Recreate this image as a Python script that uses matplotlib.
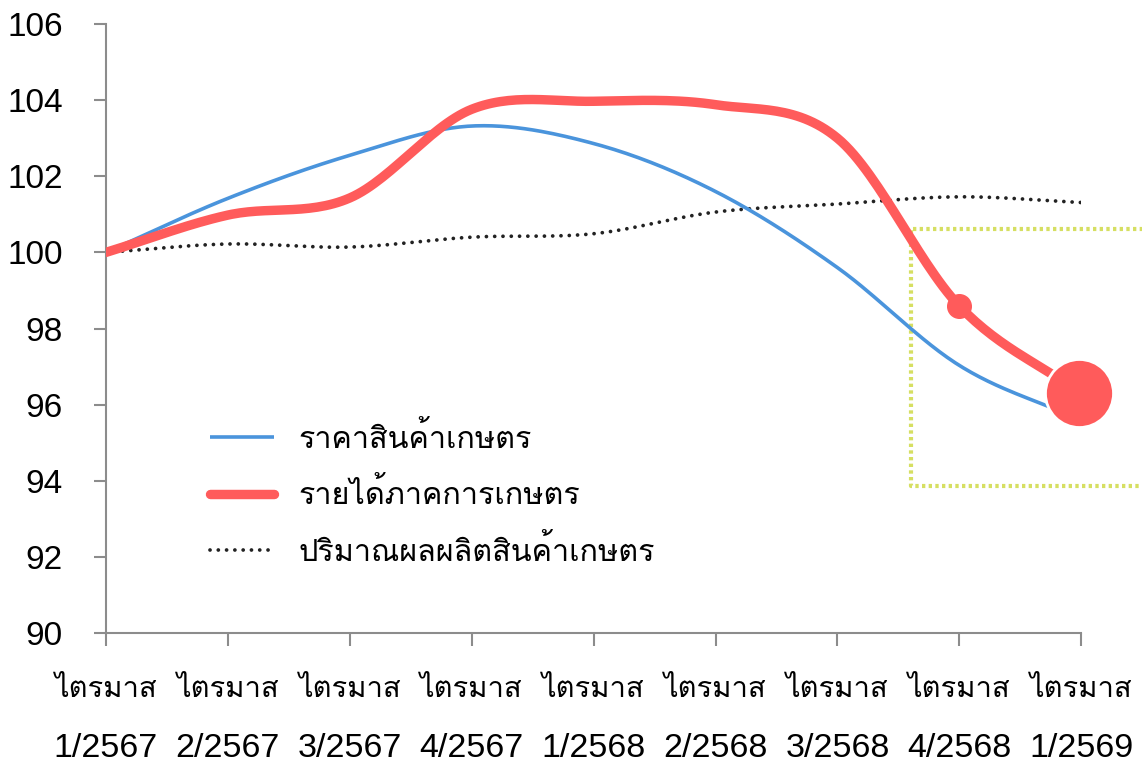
import numpy as np
import matplotlib
matplotlib.use('Agg')
import matplotlib.pyplot as plt
from matplotlib import font_manager
from matplotlib.ft2font import FT2Font

# data (index, base = 100)
quarter_word = 'ไตรมาส'
periods = ['1/2567', '2/2567', '3/2567', '4/2567', '1/2568', '2/2568', '3/2568', '4/2568', '1/2569']
price = [100.0, 101.42, 102.55, 103.32, 102.86, 101.6, 99.6, 97.03, 95.6]
income = [100.0, 100.98, 101.43, 103.76, 103.97, 103.88, 103.0, 98.59, 96.3]
production = [100.0, 100.22, 100.14, 100.40, 100.49, 101.06, 101.27, 101.46, 101.31]
labels = ['ราคาสินค้าเกษตร', 'รายได้ภาคการเกษตร', 'ปริมาณผลผลิตสินค้าเกษตร']
yticks = [90, 92, 94, 96, 98, 100, 102, 104, 106]

# highlight box around the last two quarters
box_x = (6.6, 8.7)
box_y = (93.86, 100.61)


def find_thai_font():
    for f in font_manager.fontManager.ttflist:
        try:
            if 0x0E01 in FT2Font(f.fname).get_charmap():
                return f.name
        except Exception:
            pass
    return 'DejaVu Sans'


def smooth(y, n=30):
    # catmull-rom curve through the points, like excel's smoothed line
    y = np.asarray(y, dtype=float)
    p = np.concatenate([[2 * y[0] - y[1]], y, [2 * y[-1] - y[-2]]])
    xs, ys = [], []
    t = np.linspace(0, 1, n, endpoint=False)
    for i in range(len(y) - 1):
        p0, p1, p2, p3 = p[i], p[i + 1], p[i + 2], p[i + 3]
        seg = 0.5 * (2 * p1 + (-p0 + p2) * t + (2 * p0 - 5 * p1 + 4 * p2 - p3) * t ** 2
                     + (-p0 + 3 * p1 - 3 * p2 + p3) * t ** 3)
        xs.append(i + t)
        ys.append(seg)
    xs.append([len(y) - 1])
    ys.append([y[-1]])
    return np.concatenate(xs), np.concatenate(ys)


thai = find_thai_font()
plt.rcParams['font.family'] = ['Liberation Sans', thai, 'DejaVu Sans']

blue = '#4a94dc'
red = '#ff5b5b'
grey = '#8c8c8c'

fig = plt.figure(figsize=(11.42, 7.67), dpi=100)
ax = fig.add_axes([0.0928, 0.1747, 0.854, 0.794])

x = np.arange(len(periods))

xs, ys = smooth(price)
ax.plot(xs, ys, color=blue, lw=2.6, label=labels[0], solid_capstyle='butt', zorder=3)
xs, ys = smooth(income)
ax.plot(xs, ys, color=red, lw=6.8, label=labels[1], solid_capstyle='round', zorder=4)
xs, ys = smooth(production)
ax.plot(xs, ys, color='#222222', lw=2.7, linestyle=(0, (0.01, 2.2)),
        dash_capstyle='round', label=labels[2], zorder=2)

# markers on the last two income points
ax.plot(x[-2], income[-2], 'o', color=red, ms=17, mec=red, zorder=5)
ax.plot(x[-1] - 0.02, income[-1], 'o', color=red, ms=49, mec='white', mew=2, zorder=6, clip_on=False)

# dotted highlight box (runs off the right edge)
ax.plot([box_x[1], box_x[0], box_x[0], box_x[1]], [box_y[1], box_y[1], box_y[0], box_y[0]],
        color='#d6df62', lw=3, linestyle=(0, (0.8, 0.8)), clip_on=False, zorder=1)

ax.set_xlim(0, 8)
ax.set_ylim(90, 106)
ax.set_xticks(x)
ax.set_xticklabels([quarter_word] * len(periods))
ax.set_yticks(yticks)

for s in ['top', 'right']:
    ax.spines[s].set_visible(False)
for s in ['left', 'bottom']:
    ax.spines[s].set_color(grey)
    ax.spines[s].set_linewidth(1.5)
ax.tick_params(axis='both', colors=grey, width=1.5, length=9, labelcolor='black')
ax.tick_params(axis='y', labelsize=24, pad=22)
ax.tick_params(axis='x', labelsize=21, pad=21)

# second row of x labels (quarter/year) in a larger size
sec = ax.secondary_xaxis('bottom')
sec.set_xticks(x)
sec.set_xticklabels(periods)
sec.tick_params(length=0, labelsize=24.5, pad=72)
sec.spines['bottom'].set_visible(False)

leg = ax.legend(loc='upper left', bbox_to_anchor=(0.078, 0.39), frameon=False,
                fontsize=22, handlelength=2.1, handletextpad=0.8, labelspacing=0.8)

fig.savefig('out.png', dpi=100)
